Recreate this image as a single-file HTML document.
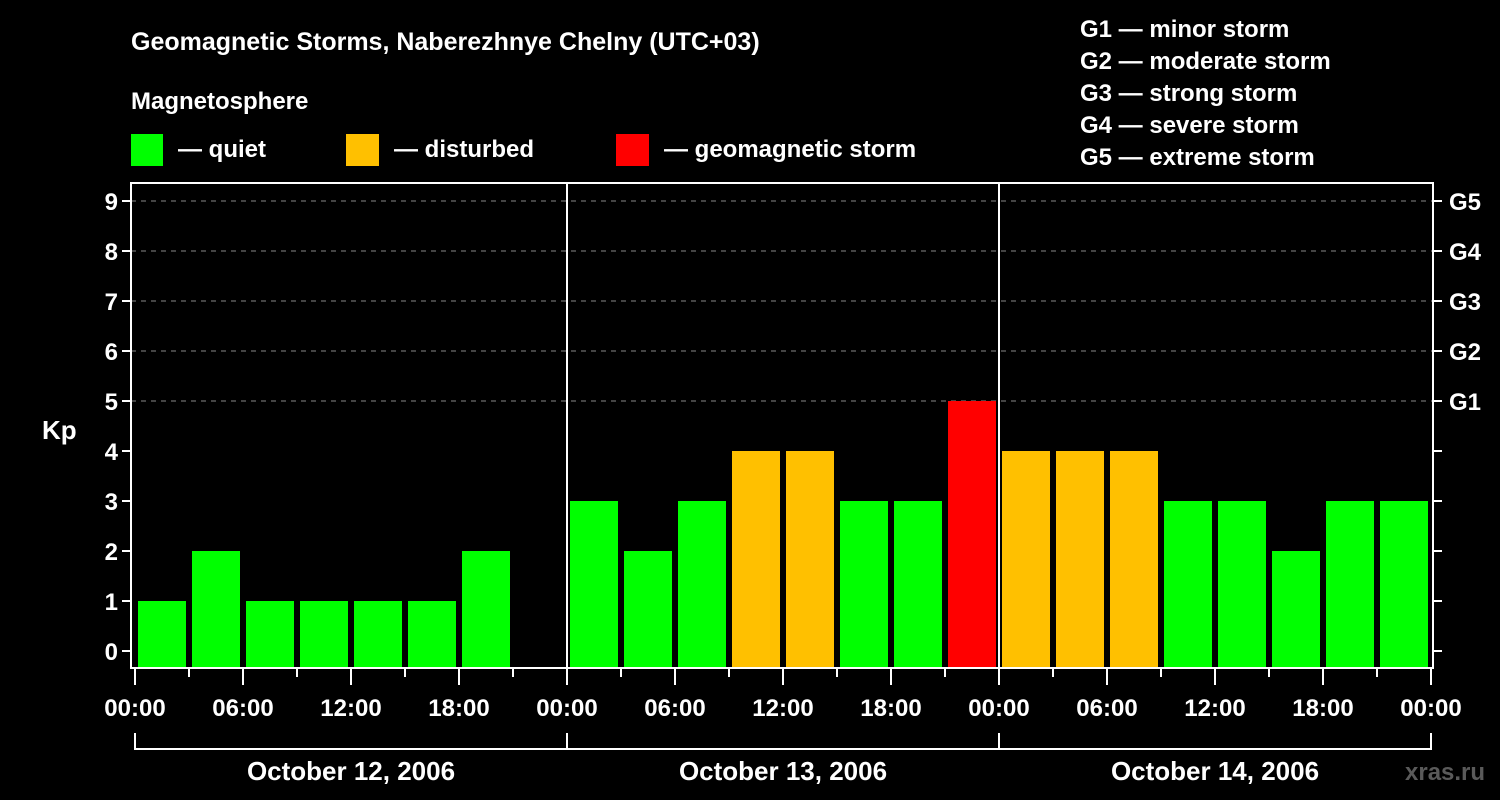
<!DOCTYPE html>
<html><head><meta charset="utf-8"><style>
body{margin:0;background:#000;width:1500px;height:800px;overflow:hidden}
svg{display:block}
text{font-family:"Liberation Sans",sans-serif;font-weight:bold;fill:#fff}
</style></head><body>
<svg id="c" width="1500" height="800" xmlns="http://www.w3.org/2000/svg">
<text x="131" y="50" font-size="25">Geomagnetic Storms, Naberezhnye Chelny (UTC+03)</text>
<text x="131" y="109" font-size="24">Magnetosphere</text>
<g><rect x="131" y="134" width="32" height="32" fill="#00ff00"/><text x="178" y="157" font-size="24">— quiet</text></g>
<g><rect x="346" y="134" width="33" height="32" fill="#ffc000"/><text x="394" y="157" font-size="24">— disturbed</text></g>
<g><rect x="616" y="134" width="33" height="32" fill="#ff0000"/><text x="664" y="157" font-size="24">— geomagnetic storm</text></g>
<g font-size="24">
<text x="1080" y="37">G1 — minor storm</text>
<text x="1080" y="69">G2 — moderate storm</text>
<text x="1080" y="101">G3 — strong storm</text>
<text x="1080" y="133">G4 — severe storm</text>
<text x="1080" y="165">G5 — extreme storm</text>
</g>
<text x="42" y="439" font-size="26">Kp</text>
<text x="1405" y="780" font-size="24" fill="#555" style="fill:#5a5a5a">xras.ru</text>
<g id="plot"></g>
</svg>
<script>
const days=["October 12, 2006","October 13, 2006","October 14, 2006"];
const kpValues=[1,2,1,1,1,1,2,null, 3,2,3,4,4,3,3,5, 4,4,4,3,3,2,3,3];
const yTicks=[0,1,2,3,4,5,6,7,8,9];
const gLabels=["G1","G2","G3","G4","G5"];
const timeLabels=["00:00","06:00","12:00","18:00"];
const NS="http://www.w3.org/2000/svg";
const g=document.getElementById('plot');
const X0=135,X1=1431,L=131,R=1433,T=183,B=668;
const xs=i=>X0+(X1-X0)*i/kpValues.length;
const ys=v=>651-50*v;
function mk(t,a,txt){const e=document.createElementNS(NS,t);for(const k in a)e.setAttribute(k,a[k]);if(txt!=null)e.textContent=txt;g.appendChild(e);return e;}
yTicks.forEach(v=>{
 if(v>=5){const l=mk('line',{x1:L,x2:R,y1:ys(v),y2:ys(v),stroke:'#888','stroke-dasharray':'5,5','stroke-width':1});
 
 }
 const t=mk('line',{x1:L-9,x2:L,y1:ys(v),y2:ys(v),stroke:'#fff','stroke-width':2});
 
 
 const t2=mk('line',{x1:R,x2:R+9,y1:ys(v),y2:ys(v),stroke:'#fff','stroke-width':2});
 
 
 const lb=mk('text',{x:L-13,y:ys(v)+9,'font-size':24,'text-anchor':'end'},v);
 
 
});
gLabels.forEach((s,i)=>{const t=mk('text',{x:1449,y:ys(5+i)+9,'font-size':24},s);
 
 });
kpValues.forEach((v,i)=>{
 if(v==null)return;
 const c=v>=5?'#ff0000':v>=4?'#ffc000':'#00ff00';
 const r=mk('rect',{x:xs(i)+3,y:ys(v),width:xs(i+1)-xs(i)-6,height:B-ys(v),fill:c});
 
 
});
mk('rect',{x:L,y:T,width:R-L,height:B-T,fill:'none',stroke:'#fff','stroke-width':2});
days.forEach((d,k)=>{
 const dx0=xs(k*8),dx1=xs(k*8+8);
 if(k>0){const l=mk('line',{x1:dx0,x2:dx0,y1:T,y2:B,stroke:'#fff','stroke-width':2});
 
 }
 const t=mk('text',{x:(dx0+dx1)/2,y:780,'font-size':26,'text-anchor':'middle'},d);
 
 
 const br=mk('path',{d:`M${dx0},733V749H${dx1}V733`,stroke:'#fff','stroke-width':2,fill:'none'});
 
 
});
for(let i=0;i<=kpValues.length;i++){
 const big=i%2===0;
 const t=mk('line',{x1:xs(i),x2:xs(i),y1:B,y2:big?685:677,stroke:'#fff','stroke-width':2});
 
 
 if(big){const lb=mk('text',{x:xs(i),y:716,'font-size':24,'text-anchor':'middle'},timeLabels[(i/2)%4]);
 
 }
}
</script>
</body></html>
